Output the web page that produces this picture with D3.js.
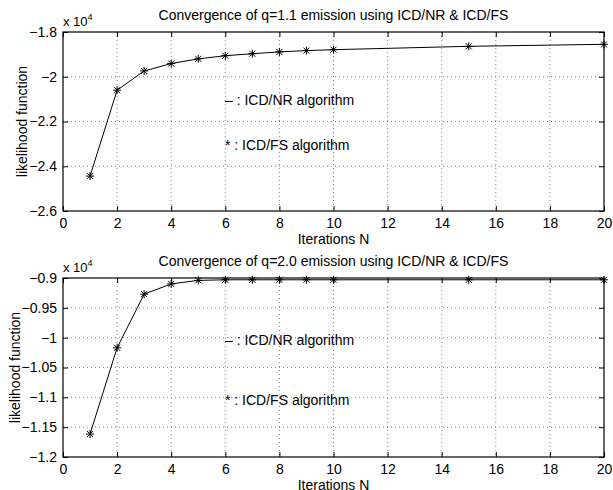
<!DOCTYPE html>
<html>
<head>
<meta charset="utf-8">
<script src="https://cdn.jsdelivr.net/npm/d3@7"></script>
<style>
  body { margin: 0; background: #fff; }
  svg { display: block; font-family: "Liberation Sans", Arial, sans-serif; }
</style>
</head>
<body>
<div id="chart"></div>
<script>
// iterations and likelihood values (x 10^4)
const iterations = [1, 2, 3, 4, 5, 6, 7, 8, 9, 10, 15, 20];
const likelihoodQ11 = [-2.444, -2.06, -1.974, -1.941, -1.920, -1.906, -1.897, -1.889, -1.883, -1.879, -1.864, -1.855];
const likelihoodQ20 = [-1.1615, -1.017, -0.927, -0.910, -0.904, -0.903, -0.903, -0.903, -0.903, -0.903, -0.903, -0.903];

const xTicks = [0, 2, 4, 6, 8, 10, 12, 14, 16, 18, 20];
const yTicksTop = [-2.6, -2.4, -2.2, -2, -1.8];
const yTicksBottom = [-1.2, -1.15, -1.1, -1.05, -1, -0.95, -0.9];

const panels = [
    { title: "Convergence of q=1.1 emission using ICD/NR & ICD/FS", values: likelihoodQ11, yTicks: yTicksTop, top: 32, labelX: -36, legendY: [68, 113] },
    { title: "Convergence of q=2.0 emission using ICD/NR & ICD/FS", values: likelihoodQ20, yTicks: yTicksBottom, top: 278, labelX: -43, legendY: [62, 122] }
];

const W = 613, H = 490;
const left = 63, plotW = 541, plotH = 179;

const svg = d3.select("#chart").append("svg")
    .attr("width", W)
    .attr("height", H);

const fmt = v => String(v).replace("-", "\u2212");

// asterisk marker (+ and x overlaid)
const r = 4, rd = 3;
const star = `M${-r},0L${r},0M0,${-r}L0,${r}M${-rd},${-rd}L${rd},${rd}M${-rd},${rd}L${rd},${-rd}`;

panels.forEach(p => {
    const g = svg.append("g").attr("transform", `translate(${left},${p.top})`);

    const x = d3.scaleLinear().domain([0, 20]).range([0, plotW]);
    const y = d3.scaleLinear().domain(d3.extent(p.yTicks)).range([plotH, 0]);

    // grid
    g.append("g").selectAll("line")
        .data(xTicks.slice(1, -1)).enter().append("line")
        .attr("x1", d => x(d)).attr("x2", d => x(d))
        .attr("y1", 0).attr("y2", plotH)
        .attr("stroke", "#666").attr("stroke-width", 0.8)
        .attr("stroke-dasharray", "1,3");
    g.append("g").selectAll("line")
        .data(p.yTicks.slice(1, -1)).enter().append("line")
        .attr("y1", d => y(d)).attr("y2", d => y(d))
        .attr("x1", 0).attr("x2", plotW)
        .attr("stroke", "#666").attr("stroke-width", 0.8)
        .attr("stroke-dasharray", "1,3");

    // axes with inward ticks
    g.append("g")
        .attr("transform", `translate(0,${plotH})`)
        .call(d3.axisBottom(x).tickValues(xTicks).tickFormat(fmt).tickSize(-5).tickPadding(7));
    g.append("g")
        .call(d3.axisLeft(y).tickValues(p.yTicks).tickFormat(fmt).tickSize(-5).tickPadding(6));
    g.append("g")
        .call(d3.axisTop(x).tickValues(xTicks).tickFormat("").tickSize(-5));
    g.append("g")
        .attr("transform", `translate(${plotW},0)`)
        .call(d3.axisRight(y).tickValues(p.yTicks).tickFormat("").tickSize(-5));

    g.selectAll(".domain").remove();
    g.selectAll(".tick line").attr("stroke", "#000");
    g.selectAll(".tick text").attr("fill", "#000").style("font-size", "14px");

    g.append("rect")
        .attr("width", plotW).attr("height", plotH)
        .attr("fill", "none").attr("stroke", "#000").attr("stroke-width", 1.2);

    // data line
    const pts = iterations.map((n, i) => [n, p.values[i]]);
    g.append("path")
        .datum(pts)
        .attr("fill", "none")
        .attr("stroke", "#000")
        .attr("stroke-width", 1)
        .attr("d", d3.line().x(d => x(d[0])).y(d => y(d[1])));

    g.selectAll(".mark")
        .data(pts).enter().append("path")
        .attr("class", "mark")
        .attr("transform", d => `translate(${x(d[0])},${y(d[1])})`)
        .attr("d", star)
        .attr("stroke", "#000").attr("stroke-width", 1);

    // title
    g.append("text")
        .attr("x", plotW / 2).attr("y", -12)
        .attr("text-anchor", "middle")
        .style("font-size", "14px")
        .text(p.title);

    // exponent label
    const ex = g.append("text").attr("x", 0).attr("y", -6).style("font-size", "13px");
    ex.append("tspan").text("x 10");
    ex.append("tspan").attr("dy", -6).style("font-size", "9px").text("4");

    // axis labels
    g.append("text")
        .attr("x", plotW / 2).attr("y", plotH + 33)
        .attr("text-anchor", "middle")
        .style("font-size", "14px")
        .text("Iterations N");
    g.append("text")
        .attr("transform", `translate(${p.labelX},${plotH / 2}) rotate(-90)`)
        .attr("text-anchor", "middle")
        .style("font-size", "14px")
        .text("likelihood function");

    // in-plot legend text
    g.append("text")
        .attr("x", 162).attr("y", p.legendY[0] + 5)
        .style("font-size", "14px")
        .text("\u2013 : ICD/NR algorithm");
    g.append("text")
        .attr("x", 162).attr("y", p.legendY[1] + 5)
        .style("font-size", "14px")
        .text("* : ICD/FS algorithm");
});
</script>
</body>
</html>
